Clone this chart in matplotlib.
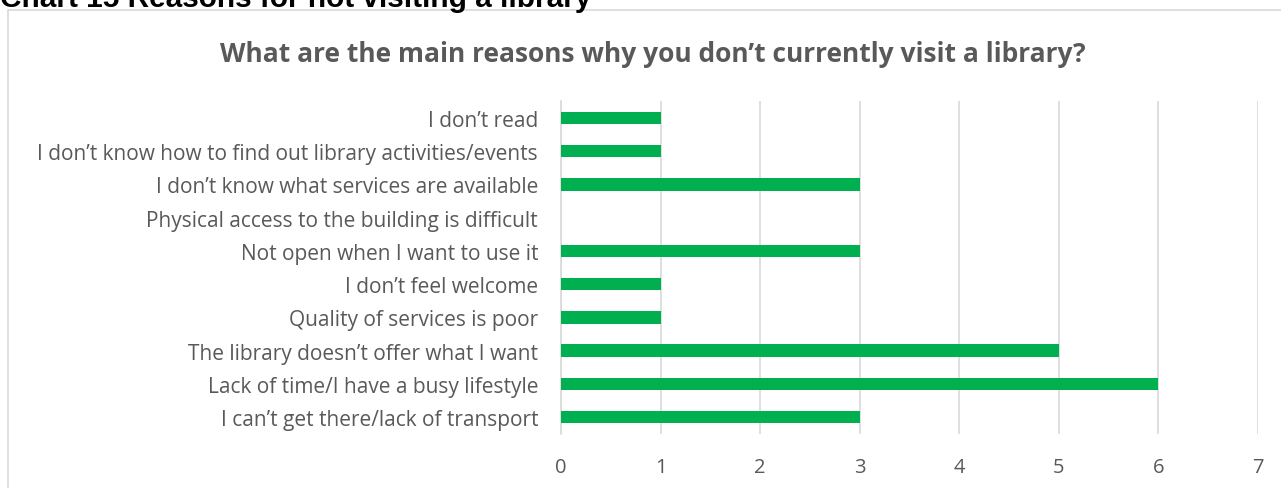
import matplotlib.pyplot as plt
from matplotlib.patches import Rectangle

# survey answers, listed bottom to top as drawn
reasons = [
    "I can\u2019t get there/lack of transport",
    "Lack of time/I have a busy lifestyle",
    "The library doesn\u2019t offer what I want",
    "Quality of services is poor",
    "I don\u2019t feel welcome",
    "Not open when I want to use it",
    "Physical access to the building is difficult",
    "I don\u2019t know what services are available",
    "I don\u2019t know how to find out library activities/events",
    "I don\u2019t read",
]
counts = [3, 6, 5, 1, 1, 3, 0, 3, 1, 1]
x_ticks = [0, 1, 2, 3, 4, 5, 6, 7]

text_grey = "#595959"
grid_grey = "#d9d9d9"
bar_green = "#00B050"

plt.rcParams["font.family"] = ["Open Sans", "DejaVu Sans"]

fig = plt.figure(figsize=(12.81, 4.89), dpi=100)

# chart frame, runs off the right and bottom edges
fig.patches.append(Rectangle((8 / 1281, -0.1), 1.2, 1.1 - 11 / 489,
                             transform=fig.transFigure, fill=False,
                             edgecolor=grid_grey, linewidth=1.2))

fig.text(0.0, 1 - 7 / 489, "Chart 15 Reasons for not visiting a library",
         family="Liberation Sans", fontweight="bold", fontsize=21.4,
         va="baseline", ha="left", color="black")

fig.text(653 / 1281, 1 - 62 / 489,
         "What are the main reasons why you don\u2019t currently visit a library?",
         fontweight="bold", fontsize=19, color=text_grey,
         ha="center", va="baseline")

ax = fig.add_axes([561 / 1281, 0.111, (1258 - 561) / 1281, 0.6796])
ax.barh(range(len(reasons)), counts, height=0.37, color=bar_green, zorder=3)

ax.set_xlim(0, 7)
ax.set_ylim(-0.5, len(reasons) - 0.5)
ax.set_xticks(x_ticks)
ax.set_yticks(range(len(reasons)))
ax.set_yticklabels(reasons)
ax.tick_params(axis="both", length=0, colors=text_grey)
ax.tick_params(axis="x", labelsize=14.5, pad=16.5)
ax.tick_params(axis="y", labelsize=15, pad=16.5)

ax.grid(axis="x", color=grid_grey, linewidth=1.2, zorder=0)
for side in ["top", "right", "bottom"]:
    ax.spines[side].set_visible(False)
ax.spines["left"].set_color(grid_grey)
ax.spines["left"].set_linewidth(1.2)

fig.savefig("out.png", dpi=100)
